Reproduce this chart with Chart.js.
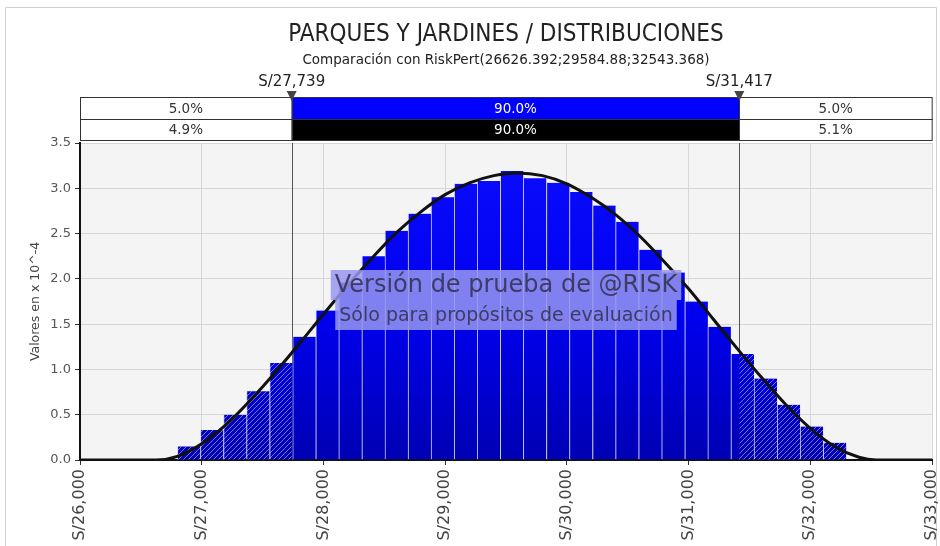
<!DOCTYPE html>
<html>
<head>
<meta charset="utf-8">
<title>Parques y jardines / distribuciones</title>
<script src="https://cdn.jsdelivr.net/npm/chart.js@4.4.1/dist/chart.umd.min.js"></script>
<style>
    html, body { margin: 0; padding: 0; background: #fff; }
    #wrap { position: relative; width: 940px; height: 546px; }
</style>
</head>
<body>
<div id="wrap"><canvas id="distChart" width="940" height="546"></canvas></div>
<script>
const chartTitle = 'PARQUES Y JARDINES / DISTRIBUCIONES';
const chartSubtitle = 'Comparación con RiskPert(26626.392;29584.88;32543.368)';
const yAxisTitle = 'Valores en x 10^-4';

// histogram bins (centre in S/) and heights (x 10^-4)
const binCenters = [26895, 27084, 27274, 27463, 27653, 27842, 28032, 28221, 28411, 28600,
                    28790, 28979, 29169, 29358, 29548, 29737, 29927, 30116, 30306, 30495,
                    30685, 30874, 31064, 31253, 31443, 31632, 31822, 32011, 32201];
const binHeights = [0.15, 0.33, 0.50, 0.76, 1.07, 1.36, 1.65, 1.96, 2.25, 2.53,
                    2.72, 2.90, 3.05, 3.08, 3.19, 3.11, 3.06, 2.96, 2.81, 2.63,
                    2.32, 2.07, 1.75, 1.47, 1.17, 0.90, 0.61, 0.37, 0.19];

// RiskPert curve
const curveX = [26000, 26626, 26800, 27000, 27200, 27400, 27600, 27800, 28000, 28200,
                28400, 28600, 28800, 29000, 29200, 29400, 29585, 29800, 30000, 30200,
                30400, 30600, 30800, 31000, 31200, 31400, 31600, 31800, 32000, 32200,
                32400, 32543, 33000];
const curveY = [0, 0, 0.04, 0.18, 0.39, 0.66, 0.96, 1.28, 1.61, 1.93,
                2.23, 2.51, 2.74, 2.93, 3.06, 3.14, 3.17, 3.14, 3.05, 2.90,
                2.71, 2.47, 2.19, 1.89, 1.56, 1.23, 0.91, 0.61, 0.35, 0.15,
                0.03, 0, 0];

// delimiters and the two percentage bands above the plot
const markers = [27739, 31417];
const markerLabels = ['S/27,739', 'S/31,417'];
const bandSimulated = ['5.0%', '90.0%', '5.0%'];
const bandFitted = ['4.9%', '90.0%', '5.1%'];

const watermarkLines = ['Versión de prueba de @RISK', 'Sólo para propósitos de evaluación'];

const xMin = 26000, xMax = 33000, xStep = 1000;
const yMin = 0, yMax = 3.5, yStep = 0.5;

const baseFont = "'DejaVu Sans', 'Liberation Sans', sans-serif";
const narrowFont = "'DejaVu Sans Condensed', 'Liberation Sans Narrow', 'DejaVu Sans', sans-serif";

Chart.defaults.font.family = baseFont;

const backgroundPlugin = {
    id: 'background',
    beforeDraw(chart) {
        const { ctx, chartArea: area } = chart;
        ctx.save();
        ctx.fillStyle = '#ffffff';
        ctx.fillRect(0, 0, chart.width, chart.height);
        ctx.strokeStyle = '#d0d0d0';
        ctx.lineWidth = 1;
        ctx.strokeRect(5.5, 7.5, chart.width - 9, chart.height + 20);
        ctx.fillStyle = '#f4f4f4';
        ctx.fillRect(area.left, area.top, area.right - area.left, area.bottom - area.top);
        ctx.restore();
    }
};

const markerLinesPlugin = {
    id: 'markerLines',
    beforeDatasetsDraw(chart) {
        const { ctx, chartArea: area, scales: { x } } = chart;
        ctx.save();
        ctx.strokeStyle = '#555';
        ctx.lineWidth = 1;
        markers.forEach(v => {
            const px = Math.round(x.getPixelForValue(v)) + 0.5;
            ctx.beginPath();
            ctx.moveTo(px, area.top);
            ctx.lineTo(px, area.bottom);
            ctx.stroke();
        });
        ctx.restore();
    }
};

// diagonal hatching on the bars outside the 90% band
const hatchPlugin = {
    id: 'hatch',
    afterDatasetDraw(chart, args) {
        const meta = chart.getDatasetMeta(args.index);
        if (meta.type !== 'bar') return;
        const { ctx, chartArea: area, scales: { x } } = chart;
        const m1 = x.getPixelForValue(markers[0]);
        const m2 = x.getPixelForValue(markers[1]);
        const h = area.bottom - area.top;
        ctx.save();
        ctx.beginPath();
        ctx.rect(area.left, area.top, m1 - area.left, h);
        ctx.rect(m2, area.top, area.right - m2, h);
        ctx.clip();
        ctx.beginPath();
        meta.data.forEach(bar => {
            const p = bar.getProps(['x', 'y', 'base', 'width'], true);
            ctx.rect(p.x - p.width / 2, p.y, p.width, p.base - p.y);
        });
        ctx.clip();
        ctx.strokeStyle = 'rgba(255,255,255,0.45)';
        ctx.lineWidth = 1;
        ctx.beginPath();
        for (let d = area.left - h; d < area.right; d += 5) {
            ctx.moveTo(d, area.bottom);
            ctx.lineTo(d + h, area.top);
        }
        ctx.stroke();
        ctx.restore();
    }
};

const watermarkPlugin = {
    id: 'watermark',
    afterDatasetsDraw(chart) {
        const { ctx, chartArea: area } = chart;
        const cx = (area.left + area.right) / 2;
        const lines = [
            { text: watermarkLines[0], font: `24px ${baseFont}`, y: 285, h: 30 },
            { text: watermarkLines[1], font: `19px ${baseFont}`, y: 315, h: 30 }
        ];
        ctx.save();
        ctx.textAlign = 'center';
        ctx.textBaseline = 'middle';
        lines.forEach(l => {
            ctx.font = l.font;
            const w = ctx.measureText(l.text).width + 8;
            ctx.fillStyle = 'rgba(150,150,240,0.85)';
            ctx.fillRect(cx - w / 2, l.y - l.h / 2, w, l.h);
        });
        lines.forEach(l => {
            ctx.font = l.font;
            ctx.fillStyle = '#3c3c66';
            ctx.fillText(l.text, cx, l.y + 1);
        });
        ctx.restore();
    }
};

const headerPlugin = {
    id: 'header',
    afterDraw(chart) {
        const { ctx, chartArea: area, scales: { x } } = chart;
        const cx = (area.left + area.right) / 2;
        ctx.save();
        ctx.textAlign = 'center';
        ctx.textBaseline = 'middle';
        ctx.fillStyle = '#222';
        ctx.font = `24px ${narrowFont}`;
        ctx.fillText(chartTitle, cx, 35);
        ctx.font = `13.5px ${baseFont}`;
        ctx.fillText(chartSubtitle, cx, 60);

        const m = markers.map(v => x.getPixelForValue(v));
        const edges = [area.left, m[0], m[1], area.right];
        const rows = [
            { top: area.top - 46, h: 22, labels: bandSimulated, mid: '#0000ff' },
            { top: area.top - 24, h: 21, labels: bandFitted, mid: '#000000' }
        ];
        rows.forEach(row => {
            for (let i = 0; i < 3; i++) {
                const l = edges[i], r = edges[i + 1];
                ctx.fillStyle = i === 1 ? row.mid : '#ffffff';
                ctx.fillRect(l, row.top, r - l, row.h);
                ctx.strokeStyle = '#333';
                ctx.lineWidth = 1;
                ctx.strokeRect(Math.round(l) + 0.5, row.top + 0.5, r - l, row.h);
                ctx.fillStyle = i === 1 ? '#ffffff' : '#333';
                ctx.font = `13.5px ${baseFont}`;
                ctx.fillText(row.labels[i], (l + r) / 2, row.top + row.h / 2 + 1);
            }
        });

        m.forEach((px, i) => {
            ctx.fillStyle = '#444';
            ctx.beginPath();
            ctx.moveTo(px - 5, area.top - 52);
            ctx.lineTo(px + 5, area.top - 52);
            ctx.lineTo(px, area.top - 42);
            ctx.closePath();
            ctx.fill();
            ctx.fillStyle = '#222';
            ctx.font = `15px ${baseFont}`;
            ctx.fillText(markerLabels[i], px, area.top - 61);
        });
        ctx.restore();
    }
};

function barGradient(context) {
    const chart = context.chart;
    const area = chart.chartArea;
    if (!area) return '#0000f0';
    const g = chart.ctx.createLinearGradient(0, area.top, 0, area.bottom);
    g.addColorStop(0, '#0c0cff');
    g.addColorStop(0.55, '#0000ee');
    g.addColorStop(1, '#0000b4');
    return g;
}

const ctx = document.getElementById('distChart').getContext('2d');
new Chart(ctx, {
    type: 'bar',
    data: {
        datasets: [
            {
                type: 'line',
                label: 'RiskPert',
                data: curveX.map((v, i) => ({ x: v, y: curveY[i] })),
                borderColor: '#111',
                borderWidth: 3,
                pointRadius: 0,
                cubicInterpolationMode: 'monotone',
                order: 0
            },
            {
                type: 'bar',
                label: 'Simulación',
                data: binCenters.map((v, i) => ({ x: v, y: binHeights[i] })),
                backgroundColor: barGradient,
                borderColor: 'rgba(190,190,255,0.55)',
                borderWidth: { left: 1, right: 0, top: 0, bottom: 0 },
                borderSkipped: false,
                barPercentage: 1,
                categoryPercentage: 1,
                order: 1
            }
        ]
    },
    options: {
        responsive: false,
        animation: false,
        layout: { padding: { left: 0, top: 143, right: 8, bottom: 0 } },
        scales: {
            x: {
                type: 'linear',
                min: xMin,
                max: xMax,
                offset: false,
                afterFit: scale => {
                    scale.height = 86;
                    scale.paddingLeft = 0;
                    scale.paddingRight = 0;
                },
                ticks: {
                    stepSize: xStep,
                    autoSkip: false,
                    minRotation: 90,
                    maxRotation: 90,
                    padding: 4,
                    color: '#444',
                    font: { size: 16 },
                    callback: v => 'S/' + v.toLocaleString('en-US')
                },
                grid: { offset: false, color: '#d6d6d6', tickLength: 5, tickColor: '#333' },
                border: { color: '#111', width: 2 }
            },
            y: {
                min: yMin,
                max: yMax,
                afterFit: scale => { scale.width = 80; },
                ticks: {
                    stepSize: yStep,
                    padding: 4,
                    color: '#555',
                    font: { size: 13 },
                    callback: v => v.toFixed(1)
                },
                grid: { color: '#d6d6d6', tickLength: 5, tickColor: '#333' },
                border: { color: '#111', width: 2 },
                title: {
                    display: true,
                    text: yAxisTitle,
                    color: '#444',
                    font: { size: 12.5 },
                    padding: { top: 28, bottom: 0 }
                }
            }
        },
        plugins: {
            legend: { display: false },
            tooltip: { enabled: false },
            title: { display: false }
        }
    },
    plugins: [backgroundPlugin, markerLinesPlugin, hatchPlugin, watermarkPlugin, headerPlugin]
});
</script>
</body>
</html>
